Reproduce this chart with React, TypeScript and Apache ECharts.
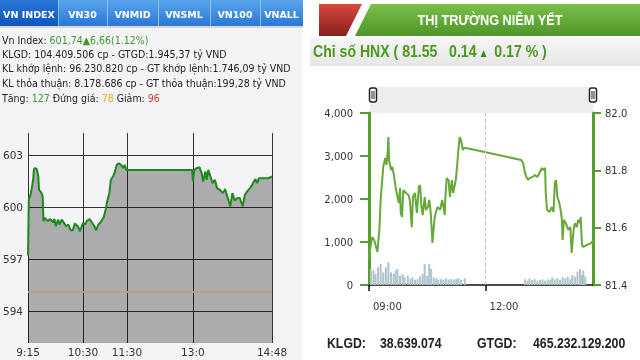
import React, { useEffect, useRef } from 'react';
import * as echarts from 'echarts';

// ---------- Left panel (VN Index) ----------
const vnTabs = ['VN INDEX', 'VN30', 'VNMID', 'VNSML', 'VN100', 'VNALL'];
const vnInfoIndex = '601,74▲6,66(1.12%)';
const vnInfoLines = [
  'KLGD: 104.409.506 cp - GTGD:1.945,37 tỷ VND',
  'KL khớp lệnh: 96.230.820 cp - GT khớp lệnh:1.746,09 tỷ VND',
  'KL thỏa thuận: 8.178.686 cp - GT thỏa thuận:199,28 tỷ VND',
];
const vnUp = '127';
const vnFlat = '78';
const vnDown = '96';

const vnTimes = [
  '9:15', '9:16', '9:19', '9:22', '9:23', '9:25', '9:27', '9:29', '9:30', '9:33', '9:35', '9:36', '9:38', '9:42',
  '9:45', '9:49', '9:51', '9:53', '9:56', '9:58', '10:01', '10:04', '10:07', '10:10', '10:13', '10:16', '10:19',
  '10:23', '10:26', '10:30', '10:33', '10:35', '10:39', '10:42', '10:45', '10:48', '10:51', '10:54', '10:58',
  '11:01', '11:03', '11:06', '11:08', '11:11', '11:13', '11:16', '11:19', '11:22', '11:25', '11:27', '11:29',
  '11:30', '12:59', '13:00', '13:02', '13:05', '13:09', '13:12', '13:14', '13:17', '13:19', '13:21', '13:24',
  '13:27', '13:30', '13:33', '13:37', '13:41', '13:44', '13:47', '13:51', '13:54', '13:57', '14:01', '14:04',
  '14:08', '14:11', '14:14', '14:18', '14:21', '14:25', '14:28', '14:30', '14:36', '14:43', '14:48',
];
const vnValues = [
  597.2, 600.42, 600.8, 601.57, 602.18, 602.24, 602.18, 601.76, 600.99, 600.84, 600.61, 599.18, 599.37, 599.18,
  599.31, 599.12, 599.31, 598.89, 599.27, 598.99, 599.27, 599.08, 598.89, 598.99, 598.66, 598.66, 599.04,
  598.89, 598.6, 599.08, 598.99, 599.18, 599.31, 599.12, 598.93, 598.66, 598.99, 599.12, 599.37,
  599.85, 600.32, 600.8, 601.57, 601.76, 601.95, 602.43, 602.52, 602.43, 602.24, 602.43, 602.14,
  602.14, 602.14, 601.47, 602.14, 602.24, 602.29, 601.95, 601.47, 602.05, 601.57, 602.14, 601.76,
  601.38, 601.57, 601.09, 600.99, 600.8, 601.03, 600.61, 600.04, 600.8, 600.38, 600.52, 600.52,
  600.04, 600.71, 600.9, 601.09, 601.28, 601.61, 601.38, 601.66, 601.66, 601.66, 601.76,
];
const vnAxisTimes = ['9:15', '10:30', '11:30', '13:00', '14:48'];
const vnAxisLabels = ['9:15', '10:30', '11:30', '13:0', '14:48'];
const vnYTicks = [594, 597, 600, 603];
const vnReference = 595.08;

// ---------- Right panel (HNX) ----------
const hnxTitle = 'THỊ TRƯỜNG NIÊM YẾT';
const hnxIndexText = ['Chỉ số HNX ( 81.55   0.14 ', '▲', '  0.17 % )'];
const hnxKlgd = '38.639.074';
const hnxGtgd = '465.232.129.200';

const hnxTimes = [
  '9:00', '9:02', '9:05', '9:08', '9:13', '9:16', '9:18', '9:22', '9:25', '9:27', '9:29', '9:30', '9:31', '9:34',
  '9:36', '9:39', '9:41', '9:44', '9:46', '9:48', '9:49', '9:51', '9:53', '9:57', '10:01', '10:03', '10:05',
  '10:06', '10:08', '10:11', '10:14', '10:17', '10:19', '10:21', '10:23', '10:26', '10:28', '10:31', '10:33',
  '10:35', '10:37', '10:38', '10:41', '10:43', '10:46', '10:50', '10:53', '10:55', '10:57', '10:58', '11:00',
  '11:03', '11:05', '11:08', '11:10', '11:14', '11:16', '11:18', '11:20', '11:22', '11:25', '11:27', '11:30',
  '12:55', '12:58', '13:01', '13:03', '13:06', '13:08', '13:13', '13:16', '13:20', '13:24', '13:27', '13:29',
  '13:32', '13:33', '13:35', '13:39', '13:42', '13:45', '13:47', '13:49', '13:51', '13:54', '13:56', '13:58',
  '13:59', '14:01', '14:04', '14:08', '14:11', '14:13', '14:16', '14:18', '14:21', '14:23', '14:26', '14:27',
  '14:29', '14:31', '14:37', '14:44', '14:46',
];
const hnxValues = [
  81.49, 81.53, 81.567, 81.557, 81.515, 81.592, 81.697, 81.812, 81.843, 81.819, 81.871, 81.916, 81.836, 81.801,
  81.812, 81.777, 81.742, 81.707, 81.686, 81.738, 81.651, 81.637, 81.731, 81.721, 81.714, 81.697, 81.637,
  81.602, 81.707, 81.721, 81.651, 81.742, 81.749, 81.672, 81.644, 81.707, 81.662, 81.672, 81.697,
  81.662, 81.592, 81.547, 81.627, 81.651, 81.672, 81.662, 81.697, 81.672, 81.644, 81.707, 81.773,
  81.766, 81.707, 81.766, 81.721, 81.766, 81.812, 81.871, 81.916, 81.906, 81.871, 81.878, 81.878,
  81.836, 81.826, 81.791, 81.777, 81.766, 81.773, 81.777, 81.784, 81.777, 81.794, 81.808, 81.801,
  81.808, 81.721, 81.662, 81.655, 81.672, 81.655, 81.756, 81.766, 81.707, 81.686, 81.662, 81.627,
  81.557, 81.627, 81.616, 81.592, 81.602, 81.512, 81.592, 81.616, 81.602, 81.627, 81.616, 81.637,
  81.54, 81.533, 81.54, 81.547, 81.557,
];
const volTimes = [
  '9:03', '9:07', '9:10', '9:14', '9:18', '9:22', '9:26', '9:30', '9:34', '9:38', '9:41', '9:44', '9:48',
  '9:52', '9:55', '10:00', '10:04', '10:07', '10:11', '10:15', '10:19', '10:23', '10:26', '10:30', '10:33',
  '10:36', '10:40', '10:44', '10:47', '10:51', '10:55', '10:59', '11:03', '11:07', '11:11', '11:15', '11:18',
  '11:22', '11:28',
  '13:01', '13:05', '13:08', '13:12', '13:16', '13:20', '13:24', '13:28', '13:32', '13:36', '13:40', '13:43',
  '13:47', '13:51', '13:55', '13:59', '14:03', '14:07', '14:11', '14:14', '14:18', '14:22', '14:26', '14:29',
  '14:31', '14:34',
];
const volValues = [
  373, 334, 256, 412, 489, 295, 412, 528, 295, 256, 334, 373, 217,
  256, 178, 217, 140, 178, 124, 140, 202, 256, 489, 217, 489,
  373, 178, 155, 124, 140, 124, 155, 124, 140, 124, 140, 155,
  124, 155,
  132, 101, 155, 117, 132, 101, 117, 132, 101, 132, 117, 179,
  132, 155, 117, 179, 155, 194, 132, 233, 194, 311, 365, 233,
  334, 194,
];
const hnxAxisTimes = ['09:00', '12:00'];
const hnxEnd = '14:46';

const toMin = (t: string, base: number) => {
  const [h, m] = t.split(':').map(Number);
  return h * 60 + m - base;
};
const VN_BASE = 9 * 60 + 15;
const HNX_BASE = 9 * 60;

const FONT = 'DejaVu Sans, Verdana, sans-serif';
const COND = 'DejaVu Sans Condensed, DejaVu Sans, sans-serif';
const NARROW = '"Liberation Sans", Arial, sans-serif';

function buildOption() {
  const vnTickMins = vnAxisTimes.map((t) => toMin(t, VN_BASE));
  const hnxTickMins = hnxAxisTimes.map((t) => toMin(t, HNX_BASE));

  const tabEdges = [0, 58, 107, 158, 210, 260, 303];
  const grad = (a: string, b: string) =>
    new echarts.graphic.LinearGradient(0, 0, 0, 1, [
      { offset: 0, color: a },
      { offset: 1, color: b },
    ]);

  const graphics: any[] = [
    { type: 'rect', z: -100, shape: { x: 0, y: 0, width: 302, height: 360 }, style: { fill: '#f4f4f7' } },
    { type: 'rect', z: -100, shape: { x: 302, y: 0, width: 338, height: 360 }, style: { fill: '#ffffff' } },
  ];
  vnTabs.forEach((name, i) => {
    const x0 = tabEdges[i];
    const x1 = tabEdges[i + 1];
    const active = i === 0;
    graphics.push({
      type: 'rect',
      shape: { x: x0, y: 0, width: x1 - x0, height: 26 },
      style: { fill: active ? grad('#2a78d8', '#0b55bb') : grad('#58a4ec', '#2a78d6') },
    });
    if (i > 0) {
      graphics.push({
        type: 'line',
        shape: { x1: x0 + 0.5, y1: 0, x2: x0 + 0.5, y2: 26 },
        style: { stroke: '#8cc0f0', lineWidth: 1 },
      });
    }
    graphics.push({
      type: 'text',
      x: (x0 + x1) / 2,
      y: 14,
      style: {
        text: name,
        fill: '#ffffff',
        font: `bold 9.5px ${FONT}`,
        textAlign: 'center',
        textVerticalAlign: 'middle',
      },
    });
  });
  graphics.push({
    type: 'rect',
    shape: { x: 0, y: 26, width: 303, height: 2 },
    style: { fill: 'rgba(0,0,0,0.12)' },
  });

  const txt = (s: string) => s.replace(/[{}|]/g, '');
  const fs = 10.5;
  const infoRich = {
    d: { fill: '#222222', fontSize: fs, fontFamily: COND },
    g: { fill: '#3a9a2a', fontSize: fs, fontFamily: COND },
    o: { fill: '#f0a428', fontSize: fs, fontFamily: COND },
    r: { fill: '#e03030', fontSize: fs, fontFamily: COND },
  };
  const infoTexts = [
    `{d|Vn Index: }{g|${txt(vnInfoIndex)}}`,
    ...vnInfoLines.map((l) => `{d|${txt(l)}}`),
    `{d|Tăng: }{g|${vnUp}}{d| Đứng giá: }{o|${vnFlat}}{d| Giảm: }{r|${vnDown}}`,
  ];
  const infoY = [40, 54, 68, 83, 98];
  infoTexts.forEach((t, i) => {
    graphics.push({
      type: 'text',
      x: 2,
      y: infoY[i],
      style: { text: t, rich: infoRich, textVerticalAlign: 'middle', textAlign: 'left' },
    });
  });

  // right header
  graphics.push({
    type: 'polygon',
    shape: { points: [[319, 4], [362, 4], [346, 36], [319, 36]] },
    style: { fill: grad('#d9483f', '#86201a') },
  });
  graphics.push({
    type: 'polygon',
    shape: { points: [[371, 4], [640, 4], [640, 36], [355, 36]] },
    style: { fill: grad('#7cbf4a', '#4c9628') },
  });
  graphics.push({
    type: 'text',
    x: 490,
    y: 20,
    scaleX: 0.85,
    style: {
      text: hnxTitle,
      fill: '#ffffff',
      font: `bold 15px ${NARROW}`,
      textAlign: 'center',
      textVerticalAlign: 'middle',
    },
  });
  graphics.push({
    type: 'rect',
    shape: { x: 310, y: 38, width: 330, height: 28 },
    style: { fill: grad('#f6f6f6', '#e6e6e6') },
  });
  graphics.push({
    type: 'text',
    x: 313,
    y: 51,
    scaleX: 0.88,
    style: {
      text: `{a|${hnxIndexText[0]}}{b|${hnxIndexText[1]}}{a|${hnxIndexText[2]}}`,
      rich: {
        a: { fill: '#4a9a1e', fontSize: 16, fontWeight: 'bold', fontFamily: NARROW },
        b: { fill: '#3a8a14', fontSize: 9, fontFamily: FONT, padding: [4, 0, 0, 0] },
      },
      textVerticalAlign: 'middle',
      textAlign: 'left',
    },
  });
  // slider bar
  graphics.push({
    type: 'rect',
    shape: { x: 370, y: 87, width: 223, height: 26 },
    style: { fill: '#ededed' },
  });
  [373, 593].forEach((hx) => {
    graphics.push({
      type: 'rect',
      shape: { x: hx - 3.5, y: 88, width: 7, height: 14, r: 2 },
      style: { fill: '#ffffff', stroke: '#222222', lineWidth: 1.5 },
    });
    graphics.push({
      type: 'line',
      shape: { x1: hx - 1, y1: 91, x2: hx - 1, y2: 99 },
      style: { stroke: '#222222', lineWidth: 1 },
    });
    graphics.push({
      type: 'line',
      shape: { x1: hx + 1, y1: 91, x2: hx + 1, y2: 99 },
      style: { stroke: '#222222', lineWidth: 1 },
    });
  });
  const bottomFont = `bold 15px ${NARROW}`;
  [
    ['KLGD:', 327],
    [hnxKlgd, 380],
    ['GTGD:', 477],
    [hnxGtgd, 533],
  ].forEach(([t, x]) => {
    graphics.push({
      type: 'text',
      x: x as number,
      y: 343,
      scaleX: 0.82,
      style: { text: t as string, fill: '#222222', font: bottomFont, textVerticalAlign: 'middle' },
    });
  });

  return {
    animation: false,
    graphic: { elements: graphics },
    grid: [
      { left: 27, right: 368, top: 133, bottom: 17 },
      { left: 369, right: 47, top: 113, bottom: 75 },
    ],
    xAxis: [
      {
        type: 'value',
        gridIndex: 0,
        min: 0,
        max: toMin('14:48', VN_BASE),
        axisLine: { show: false },
        axisTick: { show: false, customValues: vnTickMins },
        axisLabel: {
          customValues: vnTickMins,
          formatter: (v: number) => vnAxisLabels[vnTickMins.indexOf(v)] ?? '',
          color: '#333',
          fontSize: 10.5,
          fontFamily: FONT,
          margin: 3,
        },
        splitLine: { show: true, lineStyle: { color: '#333333', width: 1 } },
      },
      {
        type: 'value',
        gridIndex: 1,
        min: 0,
        max: toMin(hnxEnd, HNX_BASE),
        axisLine: { show: true, onZero: false, lineStyle: { color: '#111111', width: 1.5 } },
        axisTick: { show: true, customValues: hnxTickMins, length: 6, lineStyle: { color: '#111111', width: 1.5 } },
        axisLabel: {
          customValues: hnxTickMins,
          formatter: (v: number) => hnxAxisTimes[hnxTickMins.indexOf(v)] ?? '',
          color: '#333',
          fontSize: 10,
          fontFamily: FONT,
          margin: 16,
          align: 'left',
          padding: [0, 0, 0, 4],
        },
        splitLine: { show: false },
      },
    ],
    yAxis: [
      {
        type: 'value',
        gridIndex: 0,
        min: 592.15,
        max: 604.27,
        axisLine: { show: false },
        axisTick: { show: false, customValues: vnYTicks },
        axisLabel: { customValues: vnYTicks, color: '#333', fontSize: 10.5, fontFamily: FONT, margin: 5 },
        splitLine: { show: true, lineStyle: { color: '#333333', width: 1 } },
      },
      {
        type: 'value',
        gridIndex: 1,
        position: 'left',
        min: 0,
        max: 4000,
        interval: 1000,
        axisLine: { show: true, lineStyle: { color: '#55a02c', width: 3 } },
        axisTick: { show: true, length: 9, lineStyle: { color: '#55a02c', width: 2 } },
        axisLabel: {
          color: '#333',
          fontSize: 10,
          fontFamily: FONT,
          margin: 16,
          formatter: (v: number) => v.toLocaleString('en-US'),
        },
        splitLine: { show: false },
      },
      {
        type: 'value',
        gridIndex: 1,
        position: 'right',
        min: 81.4,
        max: 82.0,
        interval: 0.2,
        axisLine: { show: true, lineStyle: { color: '#55a02c', width: 3 } },
        axisTick: { show: true, length: 8, lineStyle: { color: '#55a02c', width: 2 } },
        axisLabel: {
          color: '#333',
          fontSize: 10,
          fontFamily: FONT,
          margin: 12,
          formatter: (v: number) => v.toFixed(1),
        },
        splitLine: { show: false },
      },
    ],
    series: [
      {
        type: 'line',
        xAxisIndex: 0,
        yAxisIndex: 0,
        data: vnTimes.map((t, i) => [toMin(t, VN_BASE), vnValues[i]]),
        showSymbol: false,
        lineStyle: { color: '#1e8a1e', width: 2 },
        itemStyle: { color: '#1e8a1e' },
        areaStyle: { color: 'rgba(0,0,0,0.42)', origin: 'start' },
        markLine: {
          silent: true,
          symbol: ['none', 'none'],
          label: { show: false },
          lineStyle: { color: '#b4a47a', width: 2, type: 'solid' },
          data: [{ yAxis: vnReference }],
        },
      },
      {
        type: 'bar',
        xAxisIndex: 1,
        yAxisIndex: 1,
        data: volTimes.map((t, i) => [toMin(t, HNX_BASE), volValues[i]]),
        barWidth: 2,
        itemStyle: { color: '#aec3cb' },
        markLine: {
          silent: true,
          symbol: ['none', 'none'],
          label: { show: false },
          lineStyle: { color: '#c4c4c4', width: 1, type: 'dashed' },
          data: [{ xAxis: hnxTickMins[1] }],
        },
      },
      {
        type: 'line',
        xAxisIndex: 1,
        yAxisIndex: 2,
        data: hnxTimes.map((t, i) => [toMin(t, HNX_BASE), hnxValues[i]]),
        showSymbol: false,
        lineStyle: { color: '#66a83a', width: 2 },
        itemStyle: { color: '#66a83a' },
      },
    ],
  };
}

export default function App() {
  const ref = useRef<HTMLDivElement>(null);
  useEffect(() => {
    if (!ref.current) return;
    const chart = echarts.init(ref.current, null, { renderer: 'svg' });
    chart.setOption(buildOption() as any);
    return () => chart.dispose();
  }, []);
  return <div ref={ref} style={{ position: 'fixed', left: 0, top: 0, width: 640, height: 360 }} />;
}
